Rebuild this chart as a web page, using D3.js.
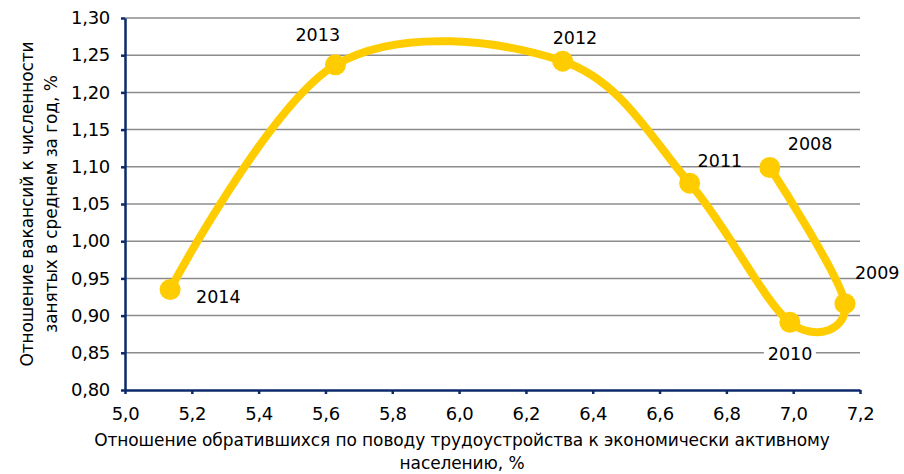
<!DOCTYPE html>
<html>
<head>
<meta charset="utf-8">
<style>
    body { margin: 0; background: #fff; font-family: "DejaVu Sans", sans-serif; }
    svg { display: block; }
    .axis text { font-size: 18px; fill: #000; font-family: "DejaVu Sans", sans-serif; letter-spacing: -0.3px; }
    .grid line { stroke: #8c8c8c; stroke-width: 1.5; }
    .axis path, .axis line { stroke: #0b2a6b; stroke-width: 2.5; }
    .title { font-size: 17px; text-anchor: middle; letter-spacing: -0.1px; }
    .pt-label { font-size: 17.5px; }
</style>
</head>
<body>
<script src="https://cdn.jsdelivr.net/npm/d3@7"></script>
<script>
    var years = ["2008", "2009", "2010", "2011", "2012", "2013", "2014"];
    var xValues = [6.93, 7.155, 6.99, 6.69, 6.31, 5.63, 5.135];
    var yValues = [1.099, 0.916, 0.891, 1.078, 1.242, 1.237, 0.935];
    var xTicks = [5.0, 5.2, 5.4, 5.6, 5.8, 6.0, 6.2, 6.4, 6.6, 6.8, 7.0, 7.2];
    var yTicks = [0.80, 0.85, 0.90, 0.95, 1.00, 1.05, 1.10, 1.15, 1.20, 1.25, 1.30];

    // label offsets relative to the point: dx, dy
    var labelPos = [[18, -18], [10, -25], [-22, 38], [8, -16], [-10, -17], [-40, -24], [26, 13]];

    var points = years.map(function(y, i) {
        return {year: y, x: xValues[i], y: yValues[i], lp: labelPos[i]};
    });

    var width = 904, height = 474,
        plotLeft = 125, plotRight = 860, plotTop = 18, plotBottom = 390;

    var x = d3.scaleLinear().domain([5.0, 7.2]).range([plotLeft, plotRight]);
    var y = d3.scaleLinear().domain([0.80, 1.30]).range([plotBottom, plotTop]);
    var comma = function(digits) {
        return function(d) { return d.toFixed(digits).replace(".", ","); };
    };

    var svg = d3.select("body").append("svg")
        .attr("width", width)
        .attr("height", height);

    svg.append("g")
        .attr("class", "grid")
      .selectAll("line")
        .data(yTicks.slice(1))
      .enter().append("line")
        .attr("x1", plotLeft)
        .attr("x2", plotRight)
        .attr("y1", function(d) { return y(d); })
        .attr("y2", function(d) { return y(d); });

    var line = d3.line()
        .x(function(d) { return x(d.x); })
        .y(function(d) { return y(d.y); })
        .curve(d3.curveCardinal.tension(0));

    svg.append("path")
        .datum(points)
        .attr("d", line)
        .attr("fill", "none")
        .attr("stroke", "#ffcc00")
        .attr("stroke-width", 8)
        .attr("stroke-linecap", "round");

    svg.selectAll("circle.pt")
        .data(points)
      .enter().append("circle")
        .attr("class", "pt")
        .attr("cx", function(d) { return x(d.x); })
        .attr("cy", function(d) { return y(d.y); })
        .attr("r", 10.5)
        .attr("fill", "#ffcc00");

    svg.append("g")
        .attr("class", "axis")
        .attr("transform", "translate(" + plotLeft + ",0)")
        .call(d3.axisLeft(y).tickValues(yTicks).tickFormat(comma(2)).tickSize(4).tickSizeOuter(0).tickPadding(11));

    svg.append("g")
        .attr("class", "axis")
        .attr("transform", "translate(0," + plotBottom + ")")
        .call(d3.axisBottom(x).tickValues(xTicks).tickFormat(comma(1)).tickSize(4).tickSizeOuter(0).tickPadding(13));

    var labels = svg.append("g").selectAll("g")
        .data(points)
      .enter().append("g")
        .attr("transform", function(d) {
            return "translate(" + (x(d.x) + d.lp[0]) + "," + (y(d.y) + d.lp[1]) + ")";
        });

    labels.append("rect")
        .attr("x", -4)
        .attr("y", -16)
        .attr("width", 52)
        .attr("height", 22)
        .attr("fill", "#fff")
        .attr("opacity", function(d) { return d.year === "2010" ? 1 : 0; });

    labels.append("text")
        .attr("class", "pt-label")
        .text(function(d) { return d.year; });

    svg.append("text")
        .attr("class", "title")
        .attr("transform", "translate(33," + ((plotTop + plotBottom) / 2) + ") rotate(-90)")
        .text("Отношение вакансий к численности");

    svg.append("text")
        .attr("class", "title")
        .attr("transform", "translate(57," + ((plotTop + plotBottom) / 2) + ") rotate(-90)")
        .text("занятых в среднем за год, %");

    svg.append("text")
        .attr("class", "title")
        .attr("x", 462)
        .attr("y", 446)
        .text("Отношение обратившихся по поводу трудоустройства к экономически активному");

    svg.append("text")
        .attr("class", "title")
        .attr("x", 462)
        .attr("y", 469)
        .text("населению, %");
</script>
</body>
</html>
